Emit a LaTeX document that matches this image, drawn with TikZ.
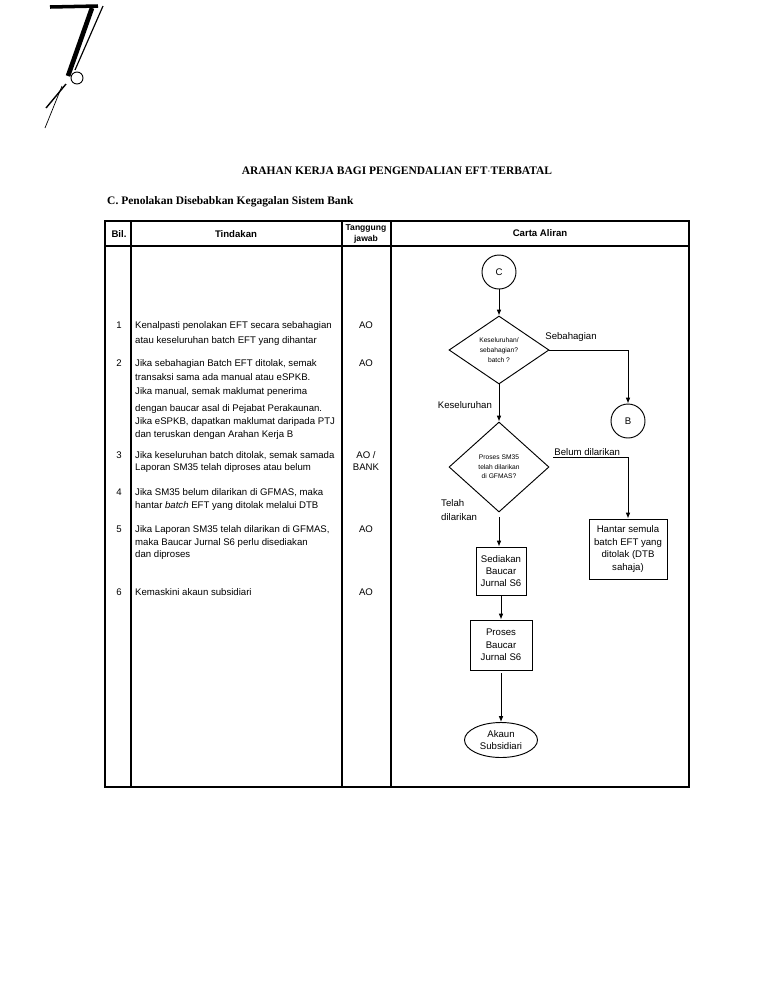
\documentclass[tikz,border=0pt]{standalone}
\usepackage{fontspec}
\setmainfont{Liberation Serif}
\setsansfont{Liberation Sans}
\usetikzlibrary{shapes.geometric, arrows.meta, positioning, calc}

\begin{document}
\begin{tikzpicture}[x=0.03cm, y=-0.03cm, font=\sffamily\fontsize{8.2}{10}\selectfont,
  tline/.style={line width=0.9pt},
  arr/.style={-{Latex[length=5pt, width=4pt]}, line width=0.8pt},
  conn/.style={draw, circle, line width=0.8pt, minimum size=1.02cm, inner sep=0pt},
  decide/.style={draw, diamond, line width=0.8pt, inner sep=0pt, minimum width=3cm, align=center, font=\sffamily\fontsize{5.7}{8.2}\selectfont},
  procbox/.style={draw, rectangle, line width=0.8pt, inner sep=0pt, align=center, font=\sffamily\fontsize{8.2}{10.6}\selectfont},
  rowtxt/.style={anchor=north west, inner sep=0pt, align=left},
  hdr/.style={font=\sffamily\bfseries\fontsize{8.2}{10}\selectfont}]
\useasboundingbox (0, 0) rectangle (768, 994);
% handwritten mark
\draw[line width=3pt] (50, 7) -- (98, 6);
\draw[line width=4pt] (92, 8) -- (68, 76);
\draw[line width=1pt] (103, 6) -- (75, 70);
\draw[line width=0.8pt] (77, 78) circle (6);
\draw[line width=1.2pt] (66, 84) -- (46, 108);
\draw[line width=0.6pt] (62, 86) -- (45, 128);
% titles
\node[font=\rmfamily\bfseries\fontsize{9.8}{12}\selectfont] (judul) at (397, 171) {ARAHAN KERJA BAGI PENGENDALIAN EFT$\cdot$TERBATAL};
\node[font=\rmfamily\bfseries\fontsize{9.8}{12}\selectfont, anchor=west, inner sep=0pt] (subjudul) at (107, 202) {C. Penolakan Disebabkan Kegagalan Sistem Bank};
% table
\draw[tline] (105, 221) rectangle (689, 787);
\draw[tline] (105, 246) -- (689, 246);
\foreach \cx in {131, 342, 391} \draw[tline] (\cx, 221) -- (\cx, 787);
\node[hdr] (hbil) at (119, 234) {Bil.};
\node[hdr] (htindakan) at (236, 234) {Tindakan};
\node[hdr, font=\sffamily\bfseries\fontsize{7.3}{8.8}\selectfont, align=center] (htj) at (366, 234) {Tanggung\\jawab};
\node[hdr] (hcarta) at (540, 233) {Carta Aliran};
% rows
\node (n1) at (119, 325) {1};
\node[rowtxt, font=\sffamily\fontsize{8.2}{12.8}\selectfont] (t1) at (135, 321.5) {Kenalpasti penolakan EFT secara sebahagian\\atau keseluruhan batch EFT yang dihantar};
\node (a1) at (366, 325) {AO};
\node (n2) at (119, 363) {2};
\node[rowtxt, font=\sffamily\fontsize{8.2}{12}\selectfont] (t2a) at (135, 359.5) {Jika sebahagian Batch EFT ditolak, semak\\transaksi sama ada manual atau eSPKB.\\Jika manual, semak maklumat penerima};
\node[rowtxt, font=\sffamily\fontsize{8.2}{11}\selectfont] (t2b) at (135, 404.5) {dengan baucar asal di Pejabat Perakaunan.\\Jika eSPKB, dapatkan maklumat daripada PTJ\\dan teruskan dengan Arahan Kerja B};
\node (a2) at (366, 363) {AO};
\node (n3) at (119, 455) {3};
\node[rowtxt, font=\sffamily\fontsize{8.2}{10.2}\selectfont] (t3) at (135, 451.5) {Jika keseluruhan batch ditolak, semak samada\\Laporan SM35 telah diproses atau belum};
\node[anchor=north, inner sep=0pt, align=center, font=\sffamily\fontsize{8.2}{10.2}\selectfont] (a3) at (366, 451.5) {AO /\\BANK};
\node (n4) at (119, 492) {4};
\node[rowtxt, font=\sffamily\fontsize{8.2}{11}\selectfont] (t4) at (135, 488.5) {Jika SM35 belum dilarikan di GFMAS, maka\\hantar \textit{batch} EFT yang ditolak melalui DTB};
\node (n5) at (119, 529) {5};
\node[rowtxt, font=\sffamily\fontsize{8.2}{10.6}\selectfont] (t5) at (135, 525.5) {Jika Laporan SM35 telah dilarikan di GFMAS,\\maka Baucar Jurnal S6 perlu disediakan\\dan diproses};
\node (a5) at (366, 529) {AO};
\node (n6) at (119, 592) {6};
\node[rowtxt] (t6) at (135, 588.5) {Kemaskini akaun subsidiari};
\node (a6) at (366, 592) {AO};
% flow chart
\node[conn] (c) at (499, 272) {C};
\node[decide, minimum height=2.04cm] (d1) at (499, 350) {Keseluruhan/\\sebahagian?\\batch ?};
\node[conn] (b) at (628, 421) {B};
\node[decide, minimum height=2.7cm] (d2) at (499, 467) {Proses SM35\\telah dilarikan\\di GFMAS?};
\node[procbox, minimum width=2.34cm, minimum height=1.8cm] (hantar) at (628, 549) {Hantar semula\\batch EFT yang\\ditolak (DTB\\sahaja)};
\node[procbox, minimum width=1.5cm, minimum height=1.44cm] (sedia) at (501, 571) {Sediakan\\Baucar\\Jurnal S6};
\node[procbox, minimum width=1.86cm, minimum height=1.5cm] (proses) at (501, 645) {Proses\\Baucar\\Jurnal S6};
\node[draw, ellipse, line width=0.8pt, inner sep=0pt, minimum width=2.19cm, minimum height=1.05cm, align=center, font=\sffamily\fontsize{8.2}{10.6}\selectfont] (akaun) at (501, 740) {Akaun\\Subsidiari};
\node (lsebahagian) at (571, 337) {Sebahagian};
\node[anchor=east] (lkeseluruhan) at (496, 405) {Keseluruhan};
\node[anchor=south west, inner sep=1pt] (lbelum) at (553, 457) {Belum dilarikan};
\node[anchor=north west, inner sep=0pt, align=left, font=\sffamily\fontsize{8.2}{12.5}\selectfont] (ltelah) at (441, 499) {Telah\\dilarikan};
\draw[arr] (c) -- (d1);
\draw[arr] (d1.east) -| (b);
\draw[arr] (d1) -- (d2);
\draw[arr] (lbelum.south west) -| (hantar);
\draw[arr] ($(d2.south)+(0, 5)$) -- ($(sedia.north)+(-2, 0)$);
\draw[arr] (sedia) -- (proses);
\draw[arr] ($(proses.south)+(0, 3)$) -- (akaun);
\end{tikzpicture}
\end{document}
